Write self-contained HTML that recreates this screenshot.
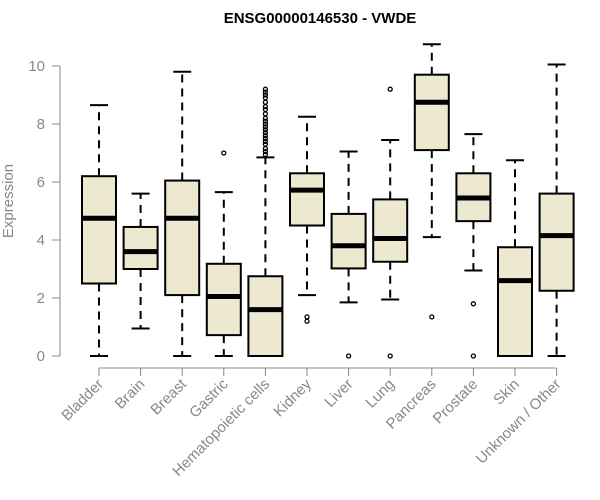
<!DOCTYPE html>
<html><head><meta charset="utf-8"><style>
body{margin:0;background:#fff}
svg{display:block;font-family:"Liberation Sans",sans-serif}
</style></head><body>
<svg id="c" width="600" height="500">
<text x="320" y="23" text-anchor="middle" font-weight="bold" font-size="15">ENSG00000146530 - VWDE</text>
<text transform="translate(13,201) rotate(-90)" text-anchor="middle" font-size="15" fill="#888">Expression</text>
</svg>
<script>
const categories=["Bladder","Brain","Breast","Gastric","Hematopoietic cells","Kidney","Liver","Lung","Pancreas","Prostate","Skin","Unknown / Other"];
const whiskLow=[0,0.95,0,0,0,2.1,1.85,1.95,4.1,2.95,0,0];
const q1=[2.5,3.0,2.1,0.72,0,4.5,3.02,3.25,7.1,4.65,0,2.25];
const medians=[4.75,3.6,4.75,2.05,1.6,5.72,3.8,4.05,8.75,5.45,2.6,4.15];
const q3=[6.2,4.45,6.05,3.18,2.75,6.3,4.9,5.4,9.7,6.3,3.75,5.6];
const whiskHigh=[8.65,5.6,9.8,5.65,6.85,8.25,7.05,7.45,10.75,7.65,6.75,10.05];
const outliers=[[],[],[],[7.0],[6.95,7.05,7.15,7.3,7.4,7.5,7.6,7.7,7.8,7.9,8.0,8.1,8.2,8.35,8.5,8.6,8.75,8.9,9.0,9.1,9.2],[1.35,1.2],[0],[0,9.2],[1.35],[1.8,0],[],[]];
const yTicks=[0,2,4,6,8,10];
const NS="http://www.w3.org/2000/svg";
const svg=document.getElementById('c');
const y=v=>356-v*29;
const x=i=>99+i*41.6;
function mk(t,a){const e=document.createElementNS(NS,t);for(const k in a)e.setAttribute(k,a[k]);svg.appendChild(e);return e;}
// y axis
let ax=mk('line',{x1:60,x2:60,y1:y(10),y2:y(0),stroke:'#888','stroke-width':1});


yTicks.forEach(t=>{
 const l=mk('line',{x1:52,x2:60,y1:y(t),y2:y(t),stroke:'#888'});
 
 
 const tx=mk('text',{x:45,y:y(t)+5,'text-anchor':'end','font-size':15,fill:'#888'});
 tx.textContent=t;
 
 
});
let xa=mk('line',{x1:x(0),x2:x(categories.length-1),y1:368,y2:368,stroke:'#888'});


const bw=34;
categories.forEach((c,i)=>{
 const cx=x(i);
 const tk=mk('line',{x1:cx,x2:cx,y1:368,y2:376,stroke:'#888'});
 
 
 const tl=mk('text',{transform:`translate(${cx+5},${385}) rotate(-45)`,'text-anchor':'end','font-size':15,fill:'#888'});
 tl.textContent=c;
 
 
 const g=document.createElementNS(NS,'g');svg.appendChild(g);
 
 
 const add=(t,a)=>{const e=document.createElementNS(NS,t);for(const k in a)e.setAttribute(k,a[k]);g.appendChild(e);return e;};
 add('line',{x1:cx,x2:cx,y1:y(q3[i]),y2:y(whiskHigh[i]),stroke:'#000','stroke-width':2,'stroke-dasharray':'8,6'});
 add('line',{x1:cx,x2:cx,y1:y(q1[i]),y2:y(whiskLow[i]),stroke:'#000','stroke-width':2,'stroke-dasharray':'8,6'});
 add('line',{x1:cx-9,x2:cx+9,y1:y(whiskHigh[i]),y2:y(whiskHigh[i]),stroke:'#000','stroke-width':2});
 add('line',{x1:cx-9,x2:cx+9,y1:y(whiskLow[i]),y2:y(whiskLow[i]),stroke:'#000','stroke-width':2});
 add('rect',{x:cx-bw/2,y:y(q3[i]),width:bw,height:Math.max(y(q1[i])-y(q3[i]),0.5),fill:'#ede8d0',stroke:'#000','stroke-width':2});
 add('line',{x1:cx-bw/2,x2:cx+bw/2,y1:y(medians[i]),y2:y(medians[i]),stroke:'#000','stroke-width':5});
 outliers[i].forEach(o=>{add('circle',{cx:cx,cy:y(o),r:2,fill:'none',stroke:'#000','stroke-width':1.3});});
});
</script>
</body></html>
